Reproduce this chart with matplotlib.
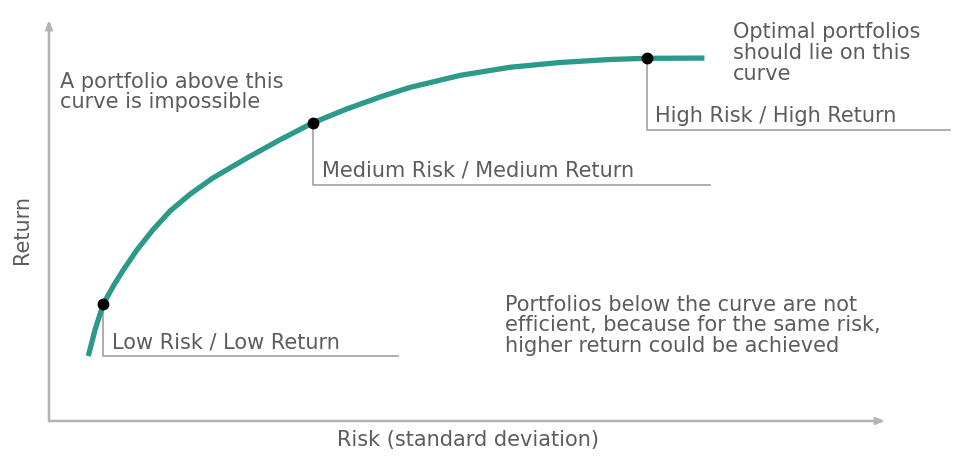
import matplotlib
matplotlib.use("Agg")
import matplotlib.pyplot as plt

# Efficient frontier curve (risk, return) in arbitrary 0-100 units
risk = [4.7, 5.5, 6.5, 7.7, 8.9, 10.5, 12.4, 14.5, 16.9, 19.6, 23.7, 27.6, 31.6,
        35.6, 39.6, 43.2, 49.2, 55.1, 61.1, 67.1, 71.5, 78.4]
ret = [16.2, 22.7, 29.2, 33.7, 37.7, 42.6, 47.6, 52.4, 56.6, 60.6, 65.6, 70.1, 74.4,
       77.8, 80.8, 83.2, 86.2, 88.2, 89.4, 90.15, 90.45, 90.5]

# Marked portfolios
point_risk = [6.5, 31.6, 71.5]
point_ret = [29.2, 74.4, 90.45]
point_labels = ["Low Risk / Low Return", "Medium Risk / Medium Return", "High Risk / High Return"]
label_underline_y = [16.2, 58.9, 72.6]
label_underline_end = [41.8, 79.1, 107.8]

note_above = "A portfolio above this\ncurve is impossible"
note_optimal = "Optimal portfolios\nshould lie on this\ncurve"
note_below = "Portfolios below the curve are not\nefficient, because for the same risk,\nhigher return could be achieved"
xlabel = "Risk (standard deviation)"
ylabel = "Return"

curve_color = "#2b9a8a"
text_color = "#5c5c5c"
line_gray = "#a0a0a0"
axis_gray = "#b4b4b4"
fs = 15

fig = plt.figure(figsize=(9.63, 4.59), dpi=100)
ax = fig.add_axes([49/963, 38/459, 836/963, 401/459])
ax.set_xlim(0, 100)
ax.set_ylim(0, 100)
ax.axis("off")

# axes with arrows
ax.annotate("", xy=(0, 1.0), xytext=(0, 0), xycoords="axes fraction",
            arrowprops=dict(arrowstyle="-|>,head_length=0.5,head_width=0.2", color=axis_gray, lw=1.8, shrinkA=0, shrinkB=0))
ax.annotate("", xy=(1.0, 0), xytext=(0, 0), xycoords="axes fraction",
            arrowprops=dict(arrowstyle="-|>,head_length=0.5,head_width=0.2", color=axis_gray, lw=1.8, shrinkA=0, shrinkB=0))

ax.plot(risk, ret, color=curve_color, lw=3.8, solid_capstyle="butt", solid_joinstyle="round", zorder=3)
ax.plot(point_risk, point_ret, "o", color="black", ms=7.5, zorder=4)

for x, y, lab, uy, ue in zip(point_risk, point_ret, point_labels, label_underline_y, label_underline_end):
    ax.plot([x, x, ue], [y, uy, uy], color=line_gray, lw=1.2, zorder=2, clip_on=False)
    ax.text(x + 1.0, uy + 1.0, lab, fontsize=fs, color=text_color, ha="left", va="bottom", clip_on=False)

ax.text(1.3, 87.0, note_above, fontsize=fs, color=text_color, ha="left", va="top", linespacing=1.0)
ax.text(81.8, 99.5, note_optimal, fontsize=fs, color=text_color, ha="left", va="top", linespacing=1.05, clip_on=False)
ax.text(54.5, 31.5, note_below, fontsize=fs, color=text_color, ha="left", va="top", linespacing=1.05)

fig.text(468/963, 1 - 440/459, xlabel, fontsize=fs, color=text_color, ha="center", va="center")
fig.text(22/963, 1 - 230/459, ylabel, fontsize=fs, color=text_color, ha="center", va="center", rotation=90)

fig.savefig("out.png", dpi=100, facecolor="white")
